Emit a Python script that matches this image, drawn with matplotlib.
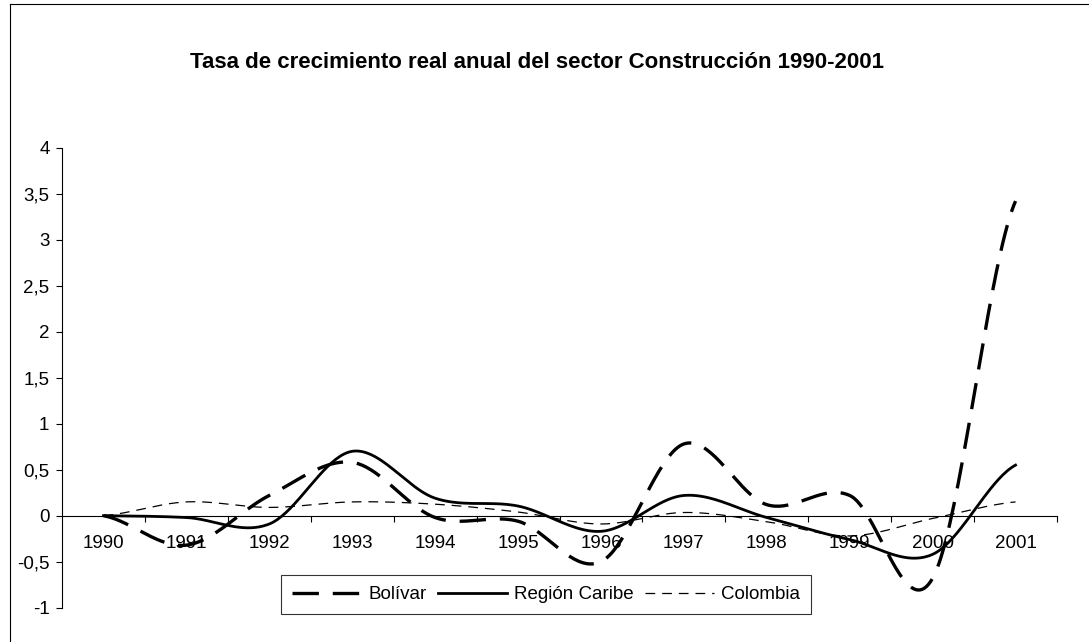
import numpy as np
import matplotlib
matplotlib.use("Agg")
import matplotlib.pyplot as plt
from matplotlib.lines import Line2D
from matplotlib.ticker import FixedLocator, FuncFormatter

# --- DATOS ---
years = ["1990", "1991", "1992", "1993", "1994", "1995",
         "1996", "1997", "1998", "1999", "2000", "2001"]
bolivar = [0, -0.32, 0.22, 0.58, -0.02, -0.06, -0.50, 0.78, 0.12, 0.22, -0.68, 3.42]
caribe = [0, -0.02, -0.09, 0.70, 0.19, 0.105, -0.17, 0.22, -0.02, -0.26, -0.42, 0.55]
colombia = [0, 0.15, 0.09, 0.15, 0.125, 0.04, -0.09, 0.035, -0.065, -0.22, -0.03, 0.15]

plt.rcParams['font.family'] = ['Liberation Sans', 'DejaVu Sans']
plt.rcParams['lines.scale_dashes'] = False


def smooth(values, n=40):
    # lissage type Excel (Catmull-Rom)
    p = np.asarray(values, dtype=float)
    ext = np.concatenate([[p[0]], p, [p[-1]]])
    xs, ys = [], []
    for i in range(len(p) - 1):
        p0, p1 = ext[i + 1], ext[i + 2]
        m0 = (ext[i + 2] - ext[i]) / 2
        m1 = (ext[i + 3] - ext[i + 1]) / 2
        t = np.linspace(0, 1, n, endpoint=(i == len(p) - 2))
        h00 = 2 * t**3 - 3 * t**2 + 1
        h10 = t**3 - 2 * t**2 + t
        h01 = -2 * t**3 + 3 * t**2
        h11 = t**3 - t**2
        xs.append(i + t)
        ys.append(h00 * p0 + h10 * m0 + h01 * p1 + h11 * m1)
    return np.concatenate(xs), np.concatenate(ys)


fig = plt.figure(figsize=(10.89, 6.42), dpi=100)
ax = fig.add_axes([62 / 1089, 1 - 607.7 / 642, (1057 - 62) / 1089, (607.7 - 147.7) / 642])

x, y = smooth(bolivar)
ax.plot(x, y, color='black', lw=2.4, dashes=(19, 10), label='Bolívar',
        solid_capstyle='butt', dash_capstyle='butt')
x, y = smooth(caribe)
ax.plot(x, y, color='black', lw=2.0, label='Región Caribe')
x, y = smooth(colombia)
ax.plot(x, y, color='black', lw=0.9, dashes=(7, 5), label='Colombia')

ax.set_xlim(-0.5, len(years) - 0.5)
ax.set_ylim(-1, 4)
ax.set_yticks(np.arange(-1, 4.01, 0.5))
ax.yaxis.set_major_formatter(FuncFormatter(
    lambda v, _: (f"{v:g}").replace('.', ',')))

ax.spines['top'].set_visible(False)
ax.spines['right'].set_visible(False)
ax.spines['bottom'].set_position(('data', 0))
for s in ('left', 'bottom'):
    ax.spines[s].set_linewidth(0.8)

ax.set_xticks(range(len(years)))
ax.set_xticklabels(years)
ax.xaxis.set_minor_locator(FixedLocator(np.arange(0.5, len(years), 1)))
ax.tick_params(axis='x', which='major', length=0, pad=14, labelsize=13.5)
ax.tick_params(axis='x', which='minor', length=4, width=0.8, direction='out')
ax.tick_params(axis='y', length=4, width=0.8, pad=5, labelsize=13.5)

fig.text(0.4927, 0.902, 'Tasa de crecimiento real anual del sector Construcción 1990-2001',
         ha='center', va='center', fontsize=16, fontweight='bold')

leg = fig.legend(loc='center', bbox_to_anchor=(546 / 1089, 1 - 594.5 / 642), ncol=3,
                 fontsize=13.5, frameon=True, fancybox=False, handlelength=3.7,
                 handletextpad=0.35, columnspacing=0.6, borderpad=0.6,
                 borderaxespad=0)
leg.get_frame().set_edgecolor('black')
leg.get_frame().set_linewidth(0.8)

# cadre du graphique
fig.add_artist(Line2D([10 / 1089, 10 / 1089], [0, 1 - 4 / 642], color='black', lw=0.8))
fig.add_artist(Line2D([10 / 1089, 1], [1 - 4 / 642, 1 - 4 / 642], color='black', lw=0.8))

fig.savefig('out.png', dpi=100)
